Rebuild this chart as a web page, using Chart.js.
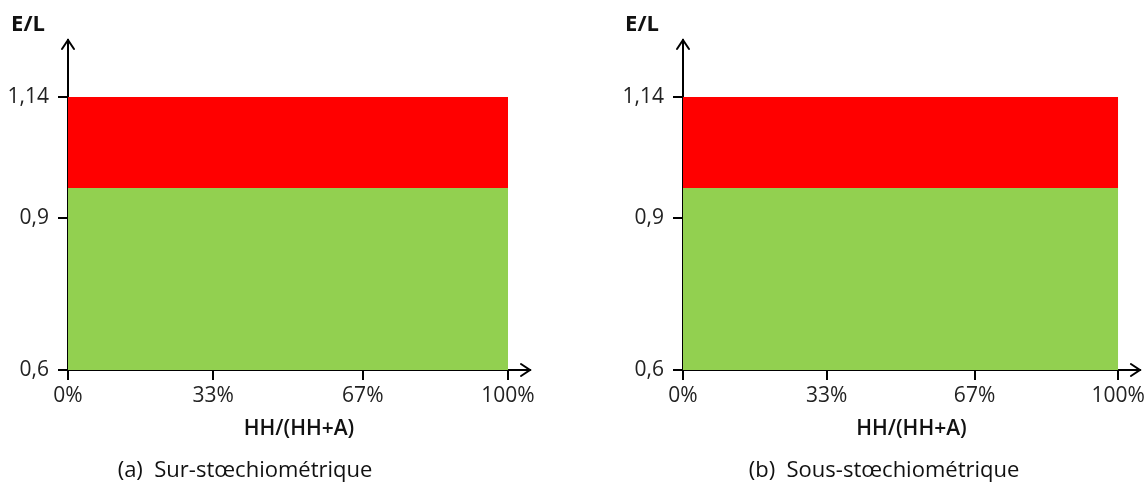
<!DOCTYPE html>
<html>
<head>
<meta charset="utf-8">
<script src="https://cdn.jsdelivr.net/npm/chart.js@4.4.0/dist/chart.umd.min.js"></script>
<style>
  html, body { margin: 0; padding: 0; background: #fff; }
  body { width: 1148px; height: 495px; position: relative; overflow: hidden; font-family: "Open Sans", "Noto Sans", sans-serif; }
  .panel { position: absolute; top: 0; height: 495px; }
  .yl { position: absolute; font-weight: bold; font-size: 22px; color: #111; line-height: 1; transform: translate(-50%, -50%); }
  .cap { position: absolute; font-size: 22px; color: #111; white-space: pre; transform: translate(-50%, -50%); line-height: 1; }
</style>
</head>
<body>
<div class="panel" style="left:0;width:574px"><canvas id="ca" width="574" height="495"></canvas></div>
<div class="panel" style="left:574px;width:574px"><canvas id="cb" width="574" height="495"></canvas></div>
<div class="yl" style="left:28px;top:22px">E/L</div>
<div class="yl" style="left:642px;top:22px">E/L</div>
<div class="cap" style="left:245px;top:468px">(a)  Sur-stœchiométrique</div>
<div class="cap" style="left:884px;top:468px">(b)  Sous-stœchiométrique</div>
<script>
// ---- data ----
const xTicks = [0, 33, 67, 100];
const xTickLabels = ['0%', '33%', '67%', '100%'];
const yTicks = [0.6, 0.9, 1.14];
const yTickLabels = ['0,6', '0,9', '1,14'];
const xPoints = [0, 100];
const panelA_green = [0.96, 0.96];
const panelA_red = [1.14, 1.14];
const panelB_green = [0.96, 0.96];
const panelB_red = [1.14, 1.14];
const xTitle = 'HH/(HH+A)';

const GREEN = '#92D050';
const RED = '#FF0000';
const FONT = '"Open Sans", "Noto Sans", sans-serif';

const arrowPlugin = {
  id: 'arrows',
  afterDraw(chart) {
    const ctx = chart.ctx, a = chart.chartArea;
    ctx.save();
    ctx.strokeStyle = '#000';
    ctx.lineWidth = 2;
    ctx.lineCap = 'round';
    ctx.beginPath();
    ctx.moveTo(a.left - 6, a.top + 9);
    ctx.lineTo(a.left, a.top);
    ctx.lineTo(a.left + 6, a.top + 9);
    ctx.stroke();
    ctx.beginPath();
    ctx.moveTo(a.right - 9, a.bottom - 6);
    ctx.lineTo(a.right, a.bottom);
    ctx.lineTo(a.right - 9, a.bottom + 6);
    ctx.stroke();
    ctx.restore();
  }
};

function makeChart(id, green, red, yWidth, padRight) {
  const toPts = arr => xPoints.map((x, i) => ({ x: x, y: arr[i] }));
  return new Chart(document.getElementById(id), {
    type: 'line',
    data: {
      datasets: [
        { data: toPts(green), fill: 'start', backgroundColor: GREEN, borderWidth: 0, pointRadius: 0, tension: 0 },
        { data: toPts(red), fill: '-1', backgroundColor: RED, borderWidth: 0, pointRadius: 0, tension: 0 }
      ]
    },
    options: {
      responsive: false,
      animation: false,
      events: [],
      layout: { autoPadding: false, padding: { top: 40, left: 0, right: padRight, bottom: 50 } },
      plugins: { legend: { display: false }, tooltip: { enabled: false } },
      scales: {
        x: {
          type: 'linear', min: 0, max: 105, z: 1,
          afterBuildTicks: s => { s.ticks = xTicks.map(v => ({ value: v })); },
          afterFit: s => { s.height = 75; },
          ticks: {
            color: '#222', font: { family: FONT, size: 21 }, padding: 3, maxRotation: 0,
            callback: v => xTickLabels[xTicks.indexOf(v)]
          },
          grid: { drawOnChartArea: false, drawTicks: true, tickLength: 10, color: '#000', lineWidth: 2 },
          border: { display: true, color: '#000', width: 2 },
          title: { display: true, text: xTitle, color: '#111', font: { family: FONT, size: 21, weight: '600' }, padding: { top: 0, bottom: 3 } }
        },
        y: {
          type: 'linear', min: 0.6, max: 1.253, z: 1,
          afterBuildTicks: s => { s.ticks = yTicks.map(v => ({ value: v })); },
          afterFit: s => { s.width = yWidth; },
          ticks: {
            color: '#222', font: { family: FONT, size: 21 }, padding: 9,
            callback: v => yTickLabels[yTicks.indexOf(v)]
          },
          grid: { drawOnChartArea: false, drawTicks: true, tickLength: 10, color: '#000', lineWidth: 2 },
          border: { display: true, color: '#000', width: 2 }
        }
      }
    },
    plugins: [arrowPlugin]
  });
}

makeChart('ca', panelA_green, panelA_red, 68, 44);
makeChart('cb', panelB_green, panelB_red, 109, 3);
</script>
</body>
</html>
